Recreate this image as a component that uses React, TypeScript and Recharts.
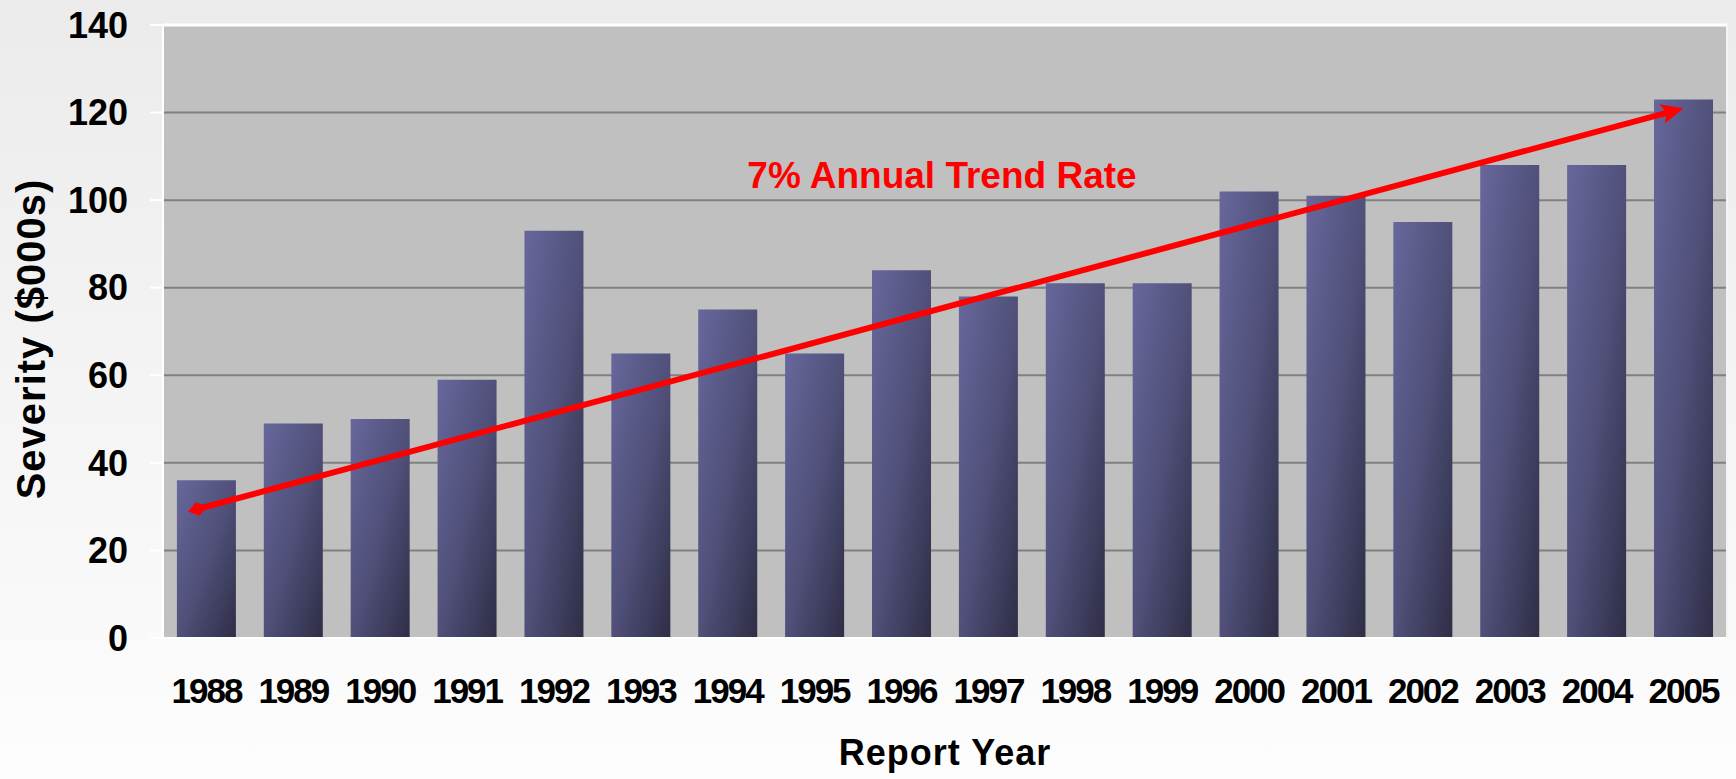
import {
  ComposedChart, Bar, XAxis, YAxis, CartesianGrid, ReferenceLine, Label,
} from "recharts";

const years = [
  "1988", "1989", "1990", "1991", "1992", "1993", "1994", "1995", "1996",
  "1997", "1998", "1999", "2000", "2001", "2002", "2003", "2004", "2005",
];
const severity = [36, 49, 50, 59, 93, 65, 75, 65, 84, 78, 81, 81, 102, 101, 95, 108, 108, 123];
const yTicks = [0, 20, 40, 60, 80, 100, 120, 140];
// trend arrow end points (year, severity)
const trendFrom = { year: "1988", value: 30 };
const trendTo = { year: "2005", value: 121 };

const FONT = "'Liberation Sans', Arial, sans-serif";

const data = years.map((y, i) => ({ year: y, severity: severity[i] }));

function TrendArrow(props: any) {
  const { x2, y2 } = props;
  const dx = x2 - props.x1;
  const dy = y2 - props.y1;
  const len = Math.sqrt(dx * dx + dy * dy);
  const ux = dx / len;
  const uy = dy / len;
  // start marker sits a little left of the bar centre
  const x1 = props.x1 - ux * 9;
  const y1 = props.y1 - uy * 9;
  const px = -uy;
  const py = ux;
  const head = 22;
  const half = 10;
  const bx = x2 - ux * head;
  const by = y2 - uy * head;
  const arrow = [
    [x2, y2],
    [bx + px * half, by + py * half],
    [x2 - ux * head * 0.8, y2 - uy * head * 0.8],
    [bx - px * half, by - py * half],
  ].map((p) => p.join(",")).join(" ");
  const d = 10;
  const w = 7;
  const diamond = [
    [x1 - ux * d, y1 - uy * d],
    [x1 + px * w, y1 + py * w],
    [x1 + ux * d, y1 + uy * d],
    [x1 - px * w, y1 - py * w],
  ].map((p) => p.join(",")).join(" ");
  return (
    <g>
      <line x1={x1} y1={y1} x2={x2 - ux * head * 0.8} y2={y2 - uy * head * 0.8} stroke="#ff0000" strokeWidth={6} />
      <polygon points={arrow} fill="#ff0000" />
      <polygon points={diamond} fill="#ff0000" />
    </g>
  );
}

export default function App() {
  return (
    <div
      style={{
        position: "fixed", left: 0, top: 0, width: 1736, height: 779,
        background: "linear-gradient(#ebebeb, #fdfdfd)",
      }}
    >
      <ComposedChart
        width={1736}
        height={779}
        data={data}
        margin={{ top: 25, right: 0, bottom: 0, left: 0 }}
        barCategoryGap="16%"
      >
        <defs>
          <linearGradient id="barFill" x1="0" y1="0" x2="1" y2="1">
            <stop offset="0%" stopColor="#67679c" />
            <stop offset="50%" stopColor="#50507a" />
            <stop offset="100%" stopColor="#2e2e46" />
          </linearGradient>
        </defs>
        <CartesianGrid vertical={false} fill="#c0c0c0" stroke="#808080" strokeWidth={2} />
        <XAxis
          dataKey="year"
          height={141}
          tickSize={0}
          tickMargin={40}
          axisLine={{ stroke: "#ffffff", strokeWidth: 2 }}
          tick={{ fill: "#000", fontSize: 35, fontWeight: "bold", fontFamily: FONT, letterSpacing: -2 }}
        >
          <Label
            value="Report Year"
            position="insideBottom"
            offset={14}
            style={{ fill: "#000", fontSize: 36, fontWeight: "bold", fontFamily: FONT, letterSpacing: 1 }}
          />
        </XAxis>
        <YAxis
          width={163}
          domain={[0, 140]}
          ticks={yTicks}
          interval={0}
          tickSize={13}
          tickMargin={22}
          tickLine={{ stroke: "#ffffff", strokeWidth: 2 }}
          axisLine={{ stroke: "#ffffff", strokeWidth: 2 }}
          tick={{ fill: "#000", fontSize: 36, fontWeight: "bold", fontFamily: FONT }}
        >
          <Label
            content={() => (
              <text
                x={45}
                y={339}
                transform="rotate(-90 45 339)"
                textAnchor="middle"
                style={{ fill: "#000", fontSize: 40, fontWeight: "bold", fontFamily: FONT, letterSpacing: 1 }}
              >
                Severity ($000s)
              </text>
            )}
          />
        </YAxis>
        <YAxis
          yAxisId="r"
          orientation="right"
          width={9}
          domain={[0, 140]}
          tick={false}
          tickLine={false}
          axisLine={{ stroke: "#f4f4f4", strokeWidth: 2 }}
        />
        <ReferenceLine y={140} stroke="#ffffff" strokeWidth={3} />
        <Bar dataKey="severity" fill="url(#barFill)" isAnimationActive={false} />
        <ReferenceLine
          segment={[
            { x: trendFrom.year, y: trendFrom.value },
            { x: trendTo.year, y: trendTo.value },
          ]}
          shape={(p: any) => <TrendArrow {...p} />}
        />
      </ComposedChart>
      <svg
        width={1736}
        height={779}
        style={{ position: "absolute", left: 0, top: 0, pointerEvents: "none" }}
      >
        <text
          x={942}
          y={188}
          textAnchor="middle"
          style={{ fill: "#ff0000", fontSize: 37, fontWeight: "bold", fontFamily: FONT }}
        >
          7% Annual Trend Rate
        </text>
      </svg>
    </div>
  );
}
